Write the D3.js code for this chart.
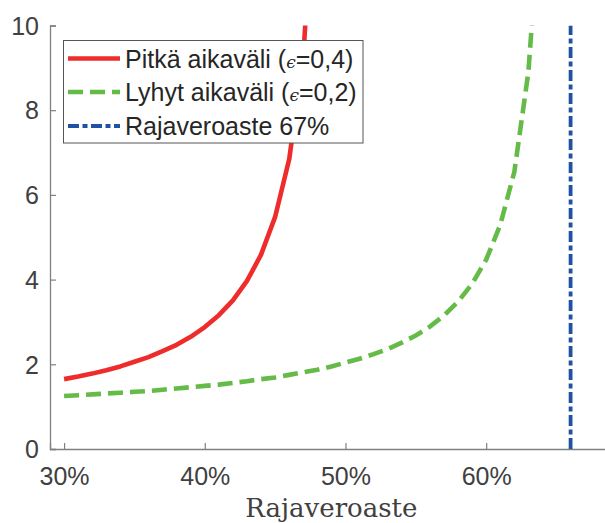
<!DOCTYPE html>
<html><head><meta charset="utf-8">
<script src="https://cdn.jsdelivr.net/npm/d3@7"></script>
<style>body{margin:0;background:#fff}svg{display:block}</style>
</head><body>
<svg id="c" width="605" height="523"></svg>
<script>
const rates = [30,31,32,33,34,35,36,37,38,39,40,41,42,43,44,45,46,47,48,49,50,51,52,53,54,55,56,57,58,59,60,61,62,63,64];
const longRun = [1.65,1.71,1.78,1.86,1.95,2.06,2.17,2.31,2.46,2.65,2.88,3.16,3.51,3.97,4.59,5.48,6.84,9.25,14.6];
const shortRun = [1.25,1.27,1.29,1.31,1.33,1.35,1.37,1.40,1.43,1.46,1.49,1.52,1.56,1.60,1.65,1.69,1.75,1.81,1.87,1.95,2.04,2.13,2.24,2.36,2.51,2.68,2.89,3.15,3.48,3.90,4.47,5.29,6.54,8.9,13.5];
const marginalRate = 66;
const xTicks = [30,40,50,60];
const yTicks = [0,2,4,6,8,10];
const legendLabels = [["Pitkä aikaväli (","0,4)"],["Lyhyt aikaväli (","0,2)"],["Rajaveroaste 67%",null]];

const svg = d3.select("#c");
const x = d3.scaleLinear().domain([29,69]).range([50,612.8]);
const y = d3.scaleLinear().domain([0,10]).range([449,25.5]);
const axisCol = "#808080", textCol = "#404040";

svg.append("defs").append("clipPath").attr("id","clip")
  .append("rect").attr("x",50).attr("y",25.5).attr("width",560).attr("height",424);

// axes
const ya = svg.append("g").attr("transform","translate(50,0)")
  .call(d3.axisLeft(y).tickValues(yTicks).tickSize(-6).tickPadding(11).tickFormat(d3.format("d")));
const xa = svg.append("g").attr("transform","translate(0,449)")
  .call(d3.axisBottom(x).tickValues(xTicks).tickSize(-6).tickPadding(17).tickFormat(d=>d+"%"));
[ya,xa].forEach(g=>{
  g.select(".domain").attr("stroke",axisCol).attr("stroke-width",1.3);
  g.selectAll(".tick line").attr("stroke",axisCol).attr("stroke-width",1.2);
  g.selectAll(".tick text").attr("fill",textCol).attr("font-family","Liberation Sans, Arial, sans-serif").attr("font-size",25);
});
ya.selectAll(".tick text").attr("dy","0.35em");
xa.selectAll(".tick text").attr("dy","0.75em");

svg.append("text").attr("x",x(49)).attr("y",517).attr("text-anchor","middle")
  .attr("font-family","DejaVu Serif, serif").attr("font-size",26).attr("fill",textCol).text("Rajaveroaste");

const plot = svg.append("g").attr("clip-path","url(#clip)");
const line = d3.line().x(d=>x(d[0])).y(d=>y(d[1]));
const red = "#ee2c2c", green = "#65bb47", blue = "#2052a3";

plot.append("path").datum(longRun.map((v,i)=>[rates[i],v])).attr("d",line)
  .attr("fill","none").attr("stroke",red).attr("stroke-width",4.6).attr("stroke-linejoin","round");
plot.append("path").datum(shortRun.map((v,i)=>[rates[i],v])).attr("d",line)
  .attr("fill","none").attr("stroke",green).attr("stroke-width",4.6).attr("stroke-dasharray","15,7");
plot.append("path").datum([[marginalRate,0],[marginalRate,10]]).attr("d",line)
  .attr("fill","none").attr("stroke",blue).attr("stroke-width",3.8).attr("stroke-dasharray","11,3.5,5,3.5");

// legend
const lg = svg.append("g");
lg.append("rect").attr("x",63.5).attr("y",40.5).attr("width",299.5).attr("height",102.5)
  .attr("fill","#fff").attr("stroke","#555").attr("stroke-width",1);
const styles = [[red,4.6,null],[green,4.6,"15,7"],[blue,3.8,"11,3.5,5,3.5"]];
const rowY = [58.5,92,126];
legendLabels.forEach((lab,i)=>{
  lg.append("line").attr("x1",68).attr("x2",120).attr("y1",rowY[i]).attr("y2",rowY[i])
    .attr("stroke",styles[i][0]).attr("stroke-width",styles[i][1]).attr("stroke-dasharray",styles[i][2]);
  const t = lg.append("text").attr("x",125).attr("y",rowY[i]+9)
    .attr("font-family","Liberation Sans, Arial, sans-serif").attr("font-size",25).attr("fill","#262626");
  t.append("tspan").text(lab[0]);
  if(lab[1]){
    t.append("tspan").attr("font-family","DejaVu Serif, serif").attr("font-style","italic").attr("font-size",17).text("ϵ");
    t.append("tspan").text("=" + lab[1]);
  }
});
</script>
</body></html>
